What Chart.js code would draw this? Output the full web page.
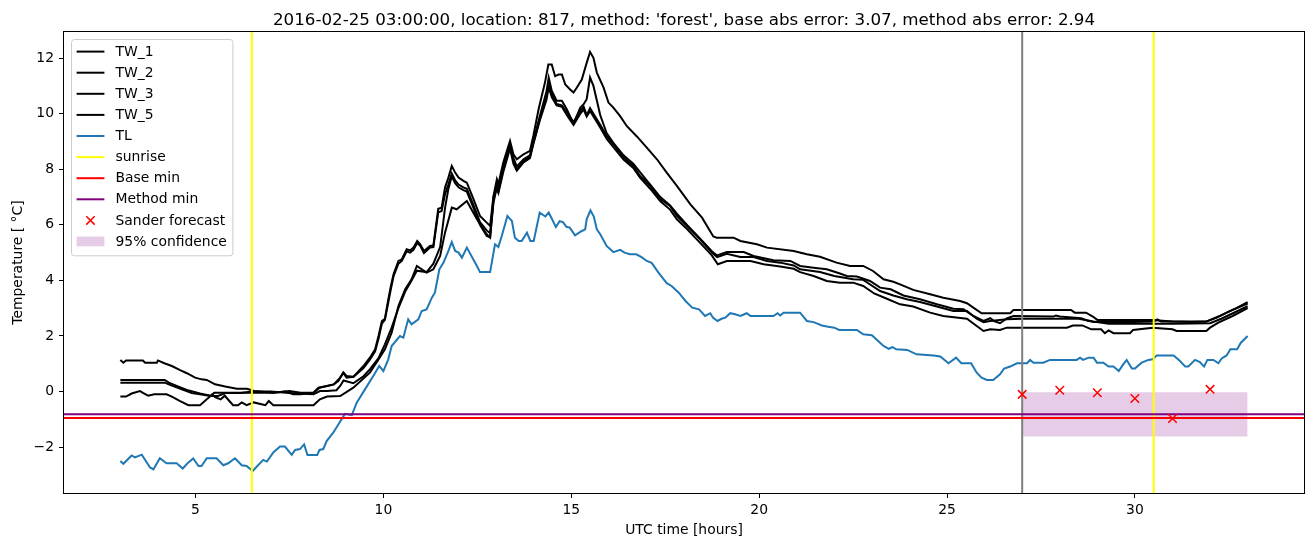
<!DOCTYPE html>
<html>
<head>
<meta charset="utf-8">
<script src="https://cdn.jsdelivr.net/npm/chart.js@4/dist/chart.umd.min.js"></script>
<style>
  body { margin: 0; background: #fff; }
  canvas { display: block; }
</style>
</head>
<body>
<canvas id="canvas" width="1313" height="547"></canvas>
<script>
// values: [UTC hour, temperature]
var tw1 = [[3.0,1.14],[3.08,1.04],[3.15,1.12],[3.6,1.12],[3.66,1.04],[3.97,1.04],[4.0,1.12],[4.17,1.02],[4.37,0.92],[4.59,0.77],[4.77,0.66],[4.99,0.5],[5.16,0.44],[5.3,0.42],[5.52,0.26],[5.79,0.18],[6.1,0.1],[6.37,0.1],[6.56,0.02],[7.07,-0.04],[7.5,0.02],[7.8,-0.04],[8.14,-0.04],[8.27,0.14],[8.5,0.2],[8.68,0.26],[8.8,0.38],[8.93,0.68],[9.02,0.5],[9.2,0.53],[9.47,0.92],[9.64,1.22],[9.78,1.52],[9.87,2.0],[9.96,2.54],[10.04,2.62],[10.13,3.32],[10.2,3.8],[10.27,4.22],[10.4,4.7],[10.49,4.76],[10.62,5.12],[10.71,5.08],[10.8,5.18],[10.9,5.42],[10.98,5.3],[11.08,5.06],[11.24,5.24],[11.33,5.26],[11.46,6.58],[11.55,6.62],[11.64,7.34],[11.73,7.7],[11.82,8.12],[11.91,7.88],[12.0,7.7],[12.13,7.58],[12.22,7.52],[12.4,6.92],[12.57,6.32],[12.75,6.08],[12.84,5.96],[12.93,7.04],[13.02,7.64],[13.06,7.46],[13.19,8.24],[13.37,9.02],[13.46,8.54],[13.55,8.36],[13.73,8.54],[13.9,8.66],[13.99,9.2],[14.13,10.16],[14.3,11.12],[14.39,11.77],[14.48,11.77],[14.57,11.35],[14.66,11.41],[14.75,11.41],[14.84,11.05],[14.97,10.87],[15.06,10.76],[15.15,10.94],[15.28,11.23],[15.41,11.83],[15.5,12.22],[15.59,12.01],[15.68,11.48],[15.86,10.94],[15.99,10.4],[16.12,10.22],[16.3,9.91],[16.48,9.55],[16.74,9.19],[17.01,8.78],[17.28,8.36],[17.54,7.88],[17.81,7.4],[18.17,6.74],[18.48,6.26],[18.78,5.58],[18.87,5.54],[19.32,5.54],[19.5,5.42],[19.94,5.3],[20.21,5.18],[20.92,5.06],[21.27,4.94],[21.62,4.85],[22.06,4.64],[22.42,4.52],[22.77,4.52],[23.03,4.34],[23.31,4.04],[23.57,3.95],[23.75,3.86],[24.1,3.66],[24.55,3.5],[24.9,3.38],[25.35,3.26],[25.53,3.18],[25.7,3.02],[25.92,2.82],[26.68,2.82],[26.77,2.94],[28.3,2.94],[28.4,2.84],[28.7,2.84],[28.88,2.7],[29.0,2.58],[30.47,2.58],[31.0,2.52],[31.5,2.5],[31.9,2.52],[32.18,2.66],[32.44,2.84],[32.7,3.0],[33.0,3.22]];
var tw2 = [[3.0,0.42],[4.18,0.42],[4.32,0.3],[4.6,0.15],[4.77,0.06],[5.12,-0.07],[5.4,-0.15],[5.5,-0.04],[6.4,-0.04],[7.07,-0.04],[7.4,0.0],[7.6,-0.1],[7.8,-0.1],[8.14,-0.04],[8.3,0.14],[8.68,0.26],[8.85,0.5],[8.94,0.68],[9.02,0.56],[9.2,0.53],[9.47,0.85],[9.64,1.15],[9.78,1.45],[9.87,1.9],[9.96,2.45],[10.04,2.58],[10.13,3.2],[10.2,3.7],[10.27,4.15],[10.4,4.6],[10.49,4.7],[10.62,5.05],[10.71,5.0],[10.8,5.1],[10.9,5.35],[10.98,5.25],[11.08,4.98],[11.24,5.18],[11.33,5.2],[11.46,6.45],[11.55,6.5],[11.64,7.1],[11.73,7.45],[11.82,7.85],[11.91,7.6],[12.0,7.45],[12.13,7.35],[12.22,7.3],[12.4,6.7],[12.57,6.1],[12.75,5.8],[12.84,5.7],[12.93,6.9],[13.02,7.5],[13.06,7.35],[13.19,8.1],[13.37,8.9],[13.46,8.4],[13.55,8.1],[13.73,8.36],[13.9,8.5],[13.99,9.0],[14.16,9.9],[14.34,10.8],[14.4,11.3],[14.48,10.83],[14.61,10.47],[14.75,10.47],[14.88,10.16],[15.06,9.64],[15.24,10.22],[15.33,10.34],[15.41,10.52],[15.5,11.3],[15.59,11.0],[15.77,9.95],[15.94,9.3],[16.12,8.95],[16.39,8.5],[16.65,8.2],[16.83,7.9],[17.1,7.45],[17.37,7.0],[17.63,6.7],[17.81,6.4],[18.08,6.0],[18.43,5.5],[18.74,5.05],[18.88,4.9],[19.14,5.02],[19.59,5.02],[19.85,4.88],[20.38,4.73],[20.83,4.7],[21.09,4.52],[21.45,4.46],[21.8,4.4],[22.15,4.25],[22.33,4.16],[22.6,4.14],[22.95,3.98],[23.22,3.74],[23.5,3.68],[23.84,3.46],[24.28,3.32],[24.73,3.14],[25.17,2.98],[25.44,2.96],[25.7,2.72],[25.97,2.54],[26.15,2.64],[26.25,2.54],[26.41,2.46],[26.6,2.64],[26.77,2.72],[27.83,2.7],[27.9,2.74],[28.0,2.7],[28.57,2.64],[28.73,2.56],[28.9,2.5],[29.94,2.5],[30.5,2.52],[30.6,2.6],[30.7,2.52],[31.9,2.52],[32.22,2.7],[32.6,2.94],[33.0,3.17]];
var tw3 = [[3.0,0.32],[4.18,0.32],[4.32,0.24],[4.6,0.1],[4.9,-0.05],[5.12,-0.1],[5.4,-0.16],[5.6,-0.16],[5.8,-0.05],[6.2,-0.05],[6.5,0.0],[7.0,0.0],[7.5,-0.05],[8.14,-0.1],[8.31,0.02],[8.5,0.02],[8.75,0.05],[8.85,0.2],[8.94,0.4],[9.2,0.3],[9.47,0.55],[9.64,0.8],[9.87,1.2],[10.04,1.7],[10.22,2.3],[10.4,3.0],[10.58,3.6],[10.75,4.0],[10.89,4.35],[11.15,4.3],[11.33,4.6],[11.51,5.2],[11.64,6.6],[11.73,7.3],[11.82,7.75],[11.91,7.5],[12.0,7.35],[12.13,7.25],[12.22,7.2],[12.4,6.6],[12.57,6.0],[12.75,5.6],[12.84,5.55],[12.93,6.8],[13.02,7.35],[13.06,7.2],[13.19,8.0],[13.37,8.85],[13.46,8.3],[13.55,8.0],[13.73,8.3],[13.9,8.45],[13.99,8.95],[14.16,9.8],[14.34,10.6],[14.4,11.1],[14.48,10.7],[14.61,10.35],[14.75,10.3],[14.88,10.05],[15.06,9.7],[15.24,10.1],[15.33,10.25],[15.41,9.95],[15.5,10.2],[15.59,10.0],[15.77,9.6],[15.94,9.2],[16.12,8.9],[16.39,8.42],[16.65,8.12],[16.83,7.76],[17.1,7.4],[17.37,6.92],[17.63,6.68],[17.81,6.32],[18.08,5.96],[18.43,5.48],[18.74,5.0],[18.88,4.84],[19.14,4.96],[19.5,4.84],[19.85,4.84],[20.21,4.7],[20.56,4.64],[20.92,4.54],[21.09,4.4],[21.62,4.3],[22.0,4.16],[22.5,4.04],[22.77,4.02],[23.22,3.62],[23.57,3.46],[23.93,3.32],[24.28,3.22],[24.73,3.06],[25.17,2.9],[25.53,2.9],[25.79,2.62],[25.97,2.5],[26.15,2.54],[26.59,2.6],[27.0,2.62],[28.5,2.62],[28.9,2.52],[29.3,2.44],[30.0,2.44],[31.0,2.44],[32.0,2.46],[32.3,2.62],[33.0,3.07]];
var tw5 = [[3.0,-0.18],[3.15,-0.18],[3.3,-0.07],[3.52,0.02],[3.6,-0.05],[3.74,-0.15],[3.9,-0.1],[4.23,-0.1],[4.37,-0.18],[4.59,-0.34],[4.81,-0.49],[5.12,-0.49],[5.3,-0.28],[5.45,-0.1],[5.52,-0.2],[5.67,-0.28],[5.78,-0.15],[5.9,-0.34],[6.0,-0.49],[6.13,-0.49],[6.23,-0.39],[6.36,-0.49],[6.55,-0.39],[6.86,-0.49],[6.95,-0.34],[7.07,-0.49],[8.14,-0.49],[8.31,-0.28],[8.5,-0.18],[8.85,-0.16],[9.2,0.14],[9.64,0.68],[9.87,1.16],[10.04,1.52],[10.22,2.12],[10.4,3.08],[10.58,3.68],[10.75,4.04],[10.89,4.52],[11.15,4.28],[11.33,4.4],[11.51,4.88],[11.64,5.72],[11.82,6.62],[11.95,6.56],[12.22,6.86],[12.49,6.2],[12.75,5.66],[12.84,5.54],[12.93,7.0],[13.02,7.3],[13.06,7.15],[13.19,7.9],[13.37,8.75],[13.46,8.2],[13.55,7.95],[13.73,8.25],[13.9,8.4],[13.99,8.9],[14.16,9.75],[14.34,10.5],[14.4,10.95],[14.48,10.6],[14.61,10.3],[14.75,10.25],[14.88,9.95],[15.06,9.6],[15.24,10.0],[15.33,10.15],[15.41,9.9],[15.5,10.1],[15.59,9.9],[15.77,9.5],[15.94,9.1],[16.12,8.8],[16.39,8.35],[16.65,8.05],[16.83,7.7],[17.1,7.3],[17.37,6.85],[17.63,6.55],[17.81,6.2],[18.08,5.85],[18.43,5.35],[18.74,4.9],[18.9,4.58],[19.14,4.7],[19.77,4.7],[20.12,4.58],[20.56,4.5],[20.92,4.42],[21.09,4.3],[21.45,4.16],[21.8,3.98],[22.15,3.92],[22.5,3.92],[22.77,3.8],[23.06,3.53],[23.4,3.34],[23.75,3.14],[24.1,3.06],[24.55,2.84],[24.9,2.72],[25.3,2.66],[25.53,2.62],[25.79,2.36],[25.97,2.18],[26.15,2.24],[26.41,2.22],[26.59,2.3],[28.19,2.3],[28.35,2.38],[28.6,2.38],[28.84,2.24],[29.1,2.24],[29.2,2.1],[29.3,2.2],[29.43,2.1],[29.87,2.1],[29.95,2.22],[30.47,2.3],[31.0,2.24],[31.11,2.18],[31.9,2.18],[32.0,2.3],[32.22,2.48],[32.6,2.72],[33.0,3.0]];
var tl = [[3.0,-2.5],[3.08,-2.6],[3.3,-2.3],[3.39,-2.37],[3.57,-2.27],[3.79,-2.73],[3.88,-2.8],[4.05,-2.4],[4.23,-2.58],[4.5,-2.58],[4.66,-2.77],[4.81,-2.55],[4.94,-2.41],[5.08,-2.68],[5.16,-2.68],[5.3,-2.4],[5.56,-2.4],[5.74,-2.65],[5.87,-2.58],[6.05,-2.4],[6.23,-2.65],[6.36,-2.68],[6.52,-2.86],[6.8,-2.46],[6.9,-2.52],[7.07,-2.19],[7.25,-1.98],[7.38,-1.98],[7.56,-2.28],[7.65,-2.1],[7.78,-2.07],[7.89,-1.9],[7.98,-2.28],[8.24,-2.28],[8.3,-2.1],[8.4,-2.07],[8.49,-1.78],[8.67,-1.47],[8.85,-1.08],[8.98,-0.8],[9.16,-0.85],[9.29,-0.4],[9.51,0.08],[9.73,0.56],[9.89,0.92],[10.0,0.74],[10.13,1.16],[10.22,1.64],[10.44,2.0],[10.53,1.94],[10.66,2.6],[10.75,2.42],[10.93,2.6],[11.02,2.9],[11.15,2.96],[11.29,3.38],[11.37,3.56],[11.49,4.4],[11.6,4.64],[11.73,5.06],[11.82,5.38],[11.91,5.06],[12.0,5.0],[12.09,4.82],[12.22,5.18],[12.49,4.52],[12.57,4.3],[12.84,4.3],[12.97,5.3],[13.06,5.2],[13.15,5.6],[13.3,6.32],[13.42,6.14],[13.5,5.54],[13.6,5.42],[13.68,5.42],[13.82,5.72],[13.91,5.42],[14.0,5.42],[14.16,6.44],[14.31,6.3],[14.4,6.44],[14.49,6.2],[14.59,5.92],[14.69,6.13],[14.78,6.1],[14.87,5.93],[14.96,5.9],[15.1,5.62],[15.27,5.77],[15.37,5.84],[15.41,6.2],[15.51,6.52],[15.6,6.3],[15.68,5.84],[15.77,5.66],[15.94,5.24],[16.12,5.02],[16.3,5.1],[16.42,5.0],[16.56,4.94],[16.73,4.94],[16.87,4.84],[17.01,4.7],[17.14,4.63],[17.32,4.28],[17.54,3.9],[17.67,3.8],[17.86,3.56],[18.04,3.26],[18.22,3.02],[18.4,2.96],[18.56,2.72],[18.7,2.82],[18.77,2.66],[18.89,2.54],[19.0,2.62],[19.1,2.66],[19.23,2.82],[19.36,2.78],[19.5,2.72],[19.67,2.82],[19.77,2.72],[20.38,2.72],[20.49,2.82],[20.56,2.74],[20.65,2.84],[21.09,2.84],[21.27,2.54],[21.45,2.5],[21.67,2.38],[21.8,2.34],[22.0,2.3],[22.13,2.22],[22.6,2.22],[22.77,2.06],[23.0,2.03],[23.31,1.64],[23.45,1.54],[23.55,1.6],[23.65,1.52],[23.94,1.5],[24.19,1.34],[24.64,1.3],[24.82,1.26],[25.04,1.02],[25.24,1.22],[25.38,1.02],[25.64,1.02],[25.79,0.68],[25.92,0.5],[26.06,0.42],[26.23,0.42],[26.41,0.62],[26.52,0.83],[26.68,0.9],[26.86,1.02],[27.13,1.02],[27.21,1.14],[27.3,1.04],[27.56,1.04],[27.74,1.14],[28.45,1.14],[28.54,1.22],[28.62,1.14],[28.77,1.22],[28.9,1.22],[28.99,1.04],[29.16,1.04],[29.3,0.9],[29.43,0.9],[29.57,0.74],[29.69,0.98],[29.78,1.14],[29.92,0.83],[30.0,0.83],[30.18,1.04],[30.36,1.14],[30.47,1.16],[30.58,1.3],[31.03,1.3],[31.2,1.1],[31.34,0.9],[31.42,0.9],[31.6,1.14],[31.73,1.06],[31.84,0.9],[31.93,1.14],[32.09,1.14],[32.22,1.02],[32.31,1.19],[32.44,1.3],[32.54,1.52],[32.72,1.52],[32.82,1.76],[33.0,2.0]];

var forecastHours = [27, 28, 29, 30, 31, 32];
var forecastTemp = [-0.1, 0.05, -0.04, -0.25, -0.97, 0.08];
var sunriseHours = [6.5, 30.5];
var forecastStart = 27;
var baseMin = -0.95;
var methodMin = -0.82;
var bandHours = [27, 33];
var bandLow = -1.62;
var bandHigh = -0.02;

var xTicks = [5, 10, 15, 20, 25, 30];
var yTicks = [-2, 0, 2, 4, 6, 8, 10, 12];
var xMin = 1.5, xMax = 34.5;
var yMin = -3.65, yMax = 12.94;

var titleText = "2016-02-25 03:00:00, location: 817, method: 'forest', base abs error: 3.07, method abs error: 2.94";

var FONT = "'DejaVu Sans', sans-serif";
Chart.defaults.font.family = FONT;
Chart.defaults.font.size = 13.9;
Chart.defaults.color = "#000";

function pts(arr) {
  return arr.map(function (p) { return { x: p[0], y: p[1] }; });
}
function vline(x) {
  return [{ x: x, y: yMin }, { x: x, y: yMax }];
}
function hline(y) {
  return [{ x: xMin, y: y }, { x: xMax, y: y }];
}
function lineSet(label, data, color, order) {
  return {
    label: label, data: data, borderColor: color, backgroundColor: color,
    borderWidth: 2, pointRadius: 0, tension: 0, fill: false, order: order,
    kind: "line",
  };
}

var datasets = [
  lineSet("TW_1", pts(tw1), "#000000", 14),
  lineSet("TW_2", pts(tw2), "#000000", 13),
  lineSet("TW_3", pts(tw3), "#000000", 12),
  lineSet("TW_5", pts(tw5), "#000000", 11),
  lineSet("TL", pts(tl), "#1f77b4", 10),
  lineSet("sunrise", vline(sunriseHours[0]), "#ffff00", 5),
  lineSet("", vline(sunriseHours[1]), "#ffff00", 5),
  lineSet("Base min", hline(baseMin), "#ff0000", 4),
  lineSet("Method min", hline(methodMin), "#800080", 3),
  lineSet("", vline(forecastStart), "#808080", 5),
  {
    label: "Sander forecast",
    data: forecastHours.map(function (h, i) { return { x: h, y: forecastTemp[i] }; }),
    showLine: false, pointStyle: "crossRot", pointRadius: 6,
    borderColor: "#ff0000", backgroundColor: "#ff0000", pointBorderWidth: 1.5,
    order: 1, kind: "marker",
  },
  {
    label: "95% confidence",
    data: [{ x: bandHours[0], y: bandHigh }, { x: bandHours[1], y: bandHigh }],
    borderWidth: 0, pointRadius: 0, borderColor: "rgba(0,0,0,0)",
    backgroundColor: "rgba(128,0,128,0.2)", fill: { value: bandLow },
    order: 20, kind: "patch",
  },
];

// axes box, legend and title in matplotlib style
var decor = {
  id: "decor",
  afterDraw: function (chart) {
    var ctx = chart.ctx;
    var a = chart.chartArea;
    ctx.save();
    ctx.strokeStyle = "#000";
    ctx.lineWidth = 1;
    ctx.strokeRect(Math.round(a.left) - 0.5, Math.round(a.top) - 0.5,
      Math.round(a.right - a.left) + 1, Math.round(a.bottom - a.top) + 1);

    // legend
    ctx.font = "13.9px " + FONT;
    var items = chart.data.datasets.filter(function (d) { return d.label; });
    var boxL = a.left + 7, boxT = a.top + 7;
    var pad = 5.6, handleW = 27.8, gap = 11.1, rowH = 21.1;
    var textX = boxL + pad + handleW + gap;
    var maxW = 0;
    items.forEach(function (d) { maxW = Math.max(maxW, ctx.measureText(d.label).width); });
    var boxW = textX + maxW + pad - boxL;
    var boxH = pad * 2 + rowH * items.length - 6.9 + 1;
    ctx.beginPath();
    ctx.roundRect(boxL + 0.5, boxT + 0.5, boxW, boxH, 3);
    ctx.fillStyle = "rgba(255,255,255,0.8)";
    ctx.fill();
    ctx.strokeStyle = "#cccccc";
    ctx.stroke();
    items.forEach(function (d, i) {
      var y = boxT + pad + 7 + rowH * i;
      var x0 = boxL + pad, x1 = x0 + handleW;
      if (d.kind === "line") {
        ctx.strokeStyle = d.borderColor;
        ctx.lineWidth = 2;
        ctx.beginPath(); ctx.moveTo(x0, y); ctx.lineTo(x1, y); ctx.stroke();
      } else if (d.kind === "marker") {
        var cx = (x0 + x1) / 2, r = 4.2;
        ctx.strokeStyle = d.borderColor;
        ctx.lineWidth = 1.5;
        ctx.beginPath();
        ctx.moveTo(cx - r, y - r); ctx.lineTo(cx + r, y + r);
        ctx.moveTo(cx - r, y + r); ctx.lineTo(cx + r, y - r);
        ctx.stroke();
      } else {
        ctx.fillStyle = d.backgroundColor;
        ctx.fillRect(x0, y - 4.9, handleW, 9.7);
      }
      ctx.fillStyle = "#000";
      ctx.textBaseline = "middle";
      ctx.textAlign = "left";
      ctx.fillText(d.label, textX, y + 0.5);
    });

    // title
    ctx.font = "16.7px " + FONT;
    ctx.fillStyle = "#000";
    ctx.textAlign = "center";
    ctx.textBaseline = "alphabetic";
    ctx.fillText(titleText, (a.left + a.right) / 2, 24.5);
    ctx.restore();
  },
};

function minusSign(v) {
  return v < 0 ? "\u2212" + Math.abs(v) : String(v);
}

var config = {
  type: "line",
  data: { datasets: datasets },
  options: {
    responsive: false,
    devicePixelRatio: 1,
    animation: false,
    layout: { padding: { top: 32, right: 9, left: 0, bottom: 0 } },
    plugins: { legend: { display: false }, tooltip: { enabled: false } },
    scales: {
      x: {
        type: "linear", min: xMin, max: xMax,
        afterBuildTicks: function (s) { s.ticks = xTicks.map(function (v) { return { value: v }; }); },
        afterFit: function (s) { s.height = 54; },
        ticks: { padding: 4, maxRotation: 0, autoSkip: false, callback: function (v) { return minusSign(v); } },
        grid: { drawOnChartArea: false, drawTicks: true, tickLength: 5, tickColor: "#000" },
        border: { display: false },
        title: { display: true, text: "UTC time [hours]", padding: { top: 0, bottom: 8 } },
      },
      y: {
        type: "linear", min: yMin, max: yMax,
        afterBuildTicks: function (s) { s.ticks = yTicks.map(function (v) { return { value: v }; }); },
        afterFit: function (s) { s.width = 64; },
        ticks: { padding: 5, autoSkip: false, callback: function (v) { return minusSign(v); } },
        grid: { drawOnChartArea: false, drawTicks: true, tickLength: 5, tickColor: "#000" },
        border: { display: false },
        title: { display: true, text: "Temperature [ \u00b0C]", padding: { top: 10, bottom: 0 } },
      },
    },
  },
  plugins: [decor],
};

var myChart = new Chart(document.getElementById("canvas"), config);
</script>
</body>
</html>
